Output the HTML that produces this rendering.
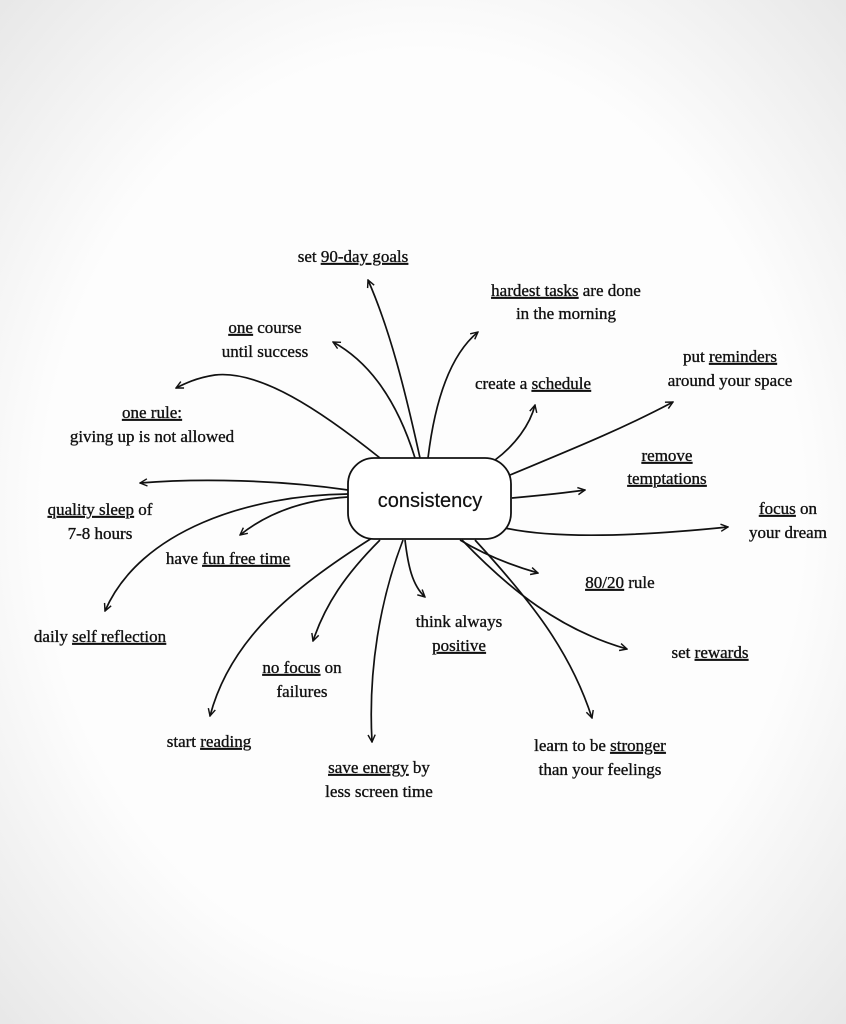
<!DOCTYPE html>
<html><head><meta charset="utf-8"><style>
html,body{margin:0;padding:0;background:#fdfdfd;}
svg{display:block;}
text{font-family:"Liberation Serif",serif;font-size:17px;fill:#111;stroke:#111;stroke-width:0.35;}
.u{text-decoration:underline;}
</style></head><body>
<svg width="846" height="1024" viewBox="0 0 846 1024" xmlns="http://www.w3.org/2000/svg">
<defs>
<marker id="a" viewBox="0 0 10 10" refX="9" refY="5" markerWidth="9" markerHeight="9" orient="auto" markerUnits="userSpaceOnUse">
<path d="M1,1 L9,5 L1,9" fill="none" stroke="#111" stroke-width="1.6"/>
</marker>
<radialGradient id="bg" cx="50%" cy="50%" r="75%">
<stop offset="0.6" stop-color="#fdfdfd"/>
<stop offset="1" stop-color="#e4e4e4"/>
</radialGradient>
</defs>
<rect x="0" y="0" width="846" height="1024" fill="url(#bg)"/>
<g fill="none" stroke="#111" stroke-width="1.7" marker-end="url(#a)">
<path d="M420,458 C405,390 390,330 368,280"/>
<path d="M428,458 C435,400 450,355 478,332"/>
<path d="M415,458 C400,410 375,365 333,342"/>
<path d="M380,458 C320,410 260,370 215,375 C195,378 182,385 176,388"/>
<path d="M495,460 C515,445 530,425 535,405"/>
<path d="M510,475 C570,450 620,430 673,402"/>
<path d="M512,498 C545,495 565,493 585,490"/>
<path d="M505,528 C560,540 650,535 728,527"/>
<path d="M348,490 C280,480 200,478 140,483"/>
<path d="M348,497 C300,500 265,515 240,535"/>
<path d="M348,494 C250,495 140,530 105,611"/>
<path d="M372,538 C290,590 230,640 210,716"/>
<path d="M380,540 C345,575 325,605 313,641"/>
<path d="M403,540 C380,600 368,670 372,742"/>
<path d="M405,540 C408,565 412,585 425,597"/>
<path d="M460,540 C485,555 510,565 538,573"/>
<path d="M462,540 C510,590 560,630 627,649"/>
<path d="M475,540 C530,600 570,650 592,718"/>
</g>
<rect x="348" y="458" width="163" height="81" rx="26" ry="26" fill="#fff" stroke="#111" stroke-width="1.8"/>
<text x="430" y="507" text-anchor="middle" style="font-family:'Liberation Sans',sans-serif;font-size:20px;stroke-width:0.2">consistency</text>

<text x="353" y="262" text-anchor="middle">set <tspan class="u">90-day goals</tspan></text>
<text x="566" y="296" text-anchor="middle"><tspan class="u">hardest tasks</tspan> are done</text>
<text x="566" y="319" text-anchor="middle">in the morning</text>
<text x="265" y="333" text-anchor="middle"><tspan class="u">one</tspan> course</text>
<text x="265" y="357" text-anchor="middle">until success</text>
<text x="533" y="389" text-anchor="middle">create a <tspan class="u">schedule</tspan></text>
<text x="730" y="362" text-anchor="middle">put <tspan class="u">reminders</tspan></text>
<text x="730" y="386" text-anchor="middle">around your space</text>
<text x="152" y="418" text-anchor="middle" class="u">one rule:</text>
<text x="152" y="442" text-anchor="middle">giving up is not allowed</text>
<text x="667" y="461" text-anchor="middle" class="u">remove</text>
<text x="667" y="484" text-anchor="middle" class="u">temptations</text>
<text x="100" y="515" text-anchor="middle"><tspan class="u">quality sleep</tspan> of</text>
<text x="100" y="539" text-anchor="middle">7-8 hours</text>
<text x="788" y="514" text-anchor="middle"><tspan class="u">focus</tspan> on</text>
<text x="788" y="538" text-anchor="middle">your dream</text>
<text x="228" y="564" text-anchor="middle">have <tspan class="u">fun free time</tspan></text>
<text x="620" y="588" text-anchor="middle"><tspan class="u">80/20</tspan> rule</text>
<text x="100" y="642" text-anchor="middle">daily <tspan class="u">self reflection</tspan></text>
<text x="459" y="627" text-anchor="middle">think always</text>
<text x="459" y="651" text-anchor="middle" class="u">positive</text>
<text x="710" y="658" text-anchor="middle">set <tspan class="u">rewards</tspan></text>
<text x="302" y="673" text-anchor="middle"><tspan class="u">no focus</tspan> on</text>
<text x="302" y="697" text-anchor="middle">failures</text>
<text x="209" y="747" text-anchor="middle">start <tspan class="u">reading</tspan></text>
<text x="600" y="751" text-anchor="middle">learn to be <tspan class="u">stronger</tspan></text>
<text x="600" y="775" text-anchor="middle">than your feelings</text>
<text x="379" y="773" text-anchor="middle"><tspan class="u">save energy</tspan> by</text>
<text x="379" y="797" text-anchor="middle">less screen time</text>
</svg>
</body></html>
